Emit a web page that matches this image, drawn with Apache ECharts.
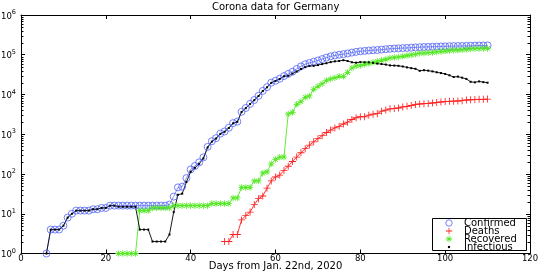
<!DOCTYPE html>
<html><head><meta charset="utf-8">
<script src="https://cdn.jsdelivr.net/npm/echarts@6/dist/echarts.min.js"></script>
<style>html,body{margin:0;padding:0;background:#fff}#c{width:545px;height:273px}</style>
</head><body><div id="c"></div>
<script>
// Day index: Jan 22nd, 2020 = day 1
const confirmedFirstDay = 6;
const confirmed = [1,4,4,4,5, 8,10,12,12,12, 12,13,13,14,14, 16,16,16,16,16,
  16,16,16,16,16, 16,16,16,16,17, 27,46,48,79,130, 159,196,262,482,670,
  799,1040,1176,1457,1908, 2078,3675,4585,5795,7272, 9257,12327,15320,19848,22213,
  24873,29056,32986,37323,43938, 50871,57695,62095,66885,71808, 77872,84794,91159,96092,100123,
  103374,107663,113296,118181,122171, 124908,127854,130072,131359,134753, 137698,141397,143342,145184,147065,
  148291,150648,153129,154999,156513, 157770,158758,159912,161539,163009, 164077,164967,165664,166152,167007,
  168162,169430,170588,171324,171879];
const deathsFirstDay = 48;
const deaths = [2,2,3, 3,7,9,11,17, 24,28,44,67,84, 94,123,157,206,267, 342,433,533,645,775,
  920,1107,1275,1444,1584, 1810,2016,2349,2607,2767, 2736,3022,3194,3294,3804, 4052,4352,4459,4586,4862,
  5033,5279,5575,5760,5877, 5976,6126,6314,6467,6623, 6736,6812,6866,6993,7275, 7392,7510,7549,7569,7661];
const recoveredFirstDay = 23;
const recovered = [1,1,1,1,1, 12,12,12, 14,14,14,14,14, 16,16,16,16,16, 16,16,16,16,
  18,18,18,18,18, 25,25, 46,46,46, 67,67, 105,113,180,233, 266,266,
  3243,3547,5673,6658,8481, 9211,13500,16100,18700,22440, 24575,26400,28700,28700,36081,
  46300,52407,53913,57400,60300, 64300,68200,72600,77000,83114, 85400,88000,91500,95200,99400,
  103300,109800,109800,112000,114500, 117400,120400,123500,126900,130600, 130600,132700,135100,139900,141700,
  141700,143300,144400];
const infectiousFirstDay = 6;
const infectious = [1,4,4,4,5, 8,10,12,12,12, 12,13,13,14,14, 16,16, 15,15,15,15,15, 4,4,4, 2,2,2,2,3,
  11,30,32,63,114, 143,180,246,466,652, 781,1022,1156,1437,1880, 2050,3622,4530,5738,7188,
  9166,12194,15163,19601,21896, 24513,28667,29586,33570,37998, 43871,48781,52351,52740,54933,
  58252,61247,65309,68248,69839, 72864,69566,64647,63167,65491, 64772,64532,62578,59865,58349,
  56646,53931,53483,52598,50703, 48058,45969,44254,39439,40836, 39794,38132,36198,34672,32886,
  30441,27555,28198,26459,24632, 20870,20220,21339,20455,19818];
const seriesNames = ['Confirmed','Deaths','Recovered','Infectious'];
const minorTicks = [2,3,4,5,6,7,8,9, 20,30,40,50,60,70,80,90, 200,300,400,500,600,700,800,900,
  2000,3000,4000,5000,6000,7000,8000,9000, 20000,30000,40000,50000,60000,70000,80000,90000,
  200000,300000,400000,500000,600000,700000,800000,900000];

function pairs(first, arr){ return arr.map((v,i)=>[first+i, v]); }

const FONT = 'DejaVu Sans';
const BLUE = '#5062f5', RED = '#ff2020', GREEN = '#55e825', BLACK = '#000';
const PLUS = 'path://M0,0M10,10M4.4,0h1.2v10h-1.2zM0,4.4h10v1.2h-10z';
const STAR = 'path://M0,0M10,10M4.4,0h1.2v10h-1.2zM0,4.4h10v1.2h-10zM1.9,1.1L8.9,8.1L8.1,8.9L1.1,1.9zM8.9,1.9L1.9,8.9L1.1,8.1L8.1,1.1z';
const DOT = 'path://M0,0M9,9M3,3h3v3h-3z';

const chart = echarts.init(document.getElementById('c'), null, {renderer:'canvas'});
const axisCommon = {
  axisLine:{show:true, onZero:false, lineStyle:{color:BLACK, width:1}},
  axisTick:{show:true, inside:true, length:4, lineStyle:{color:BLACK}},
  splitLine:{show:false}
};
chart.setOption({
  animation:false,
  backgroundColor:'#fff',
  title:{text:'Corona data for Germany', left:212, top:2, padding:0,
    textStyle:{fontSize:10, fontWeight:'normal', fontFamily:FONT, color:'#000'}},
  grid:{left:21, right:15, top:15, bottom:19.5, containLabel:false, outerBoundsMode:'none'},
  graphic:[{type:'rect', left:432, top:218, z:50,
    shape:{width:94, height:32}, style:{fill:'#fff', stroke:'#000', lineWidth:1}}],
  legend:{
    orient:'vertical', left:439, top:218, padding:0, itemGap:-2, z:60,
    itemWidth:20, itemHeight:8, selectedMode:false,
    lineStyle:{width:0},
    textStyle:{fontFamily:FONT, fontSize:10, color:'#000'},
    data:[{name:seriesNames[0], itemStyle:{borderWidth:0.8}}, seriesNames[1], seriesNames[2], seriesNames[3]]
  },
  xAxis:[
    Object.assign({type:'value', min:0, max:120, interval:20, position:'bottom',
      axisLabel:{fontFamily:FONT, fontSize:8.5, color:'#000', margin:1},
      name:'Days from Jan. 22nd, 2020', nameLocation:'middle', nameGap:8, nameMoveOverlap:false,
      nameTextStyle:{fontFamily:FONT, fontSize:10, color:'#000'}}, axisCommon),
    Object.assign({type:'value', min:0, max:120, interval:20, position:'top',
      axisLabel:{show:false}}, axisCommon)
  ],
  yAxis:[
    Object.assign({type:'log', logBase:10, min:1, max:1000000, position:'left',
      axisLabel:{margin:5, formatter:function(v){return '{b|10}{s|'+Math.round(Math.log10(v))+'}';},
        rich:{b:{fontFamily:FONT, fontSize:8.5, color:'#000', lineHeight:12, verticalAlign:'bottom'},
              s:{fontFamily:FONT, fontSize:6.5, color:'#000', lineHeight:7, verticalAlign:'top'}}}}, axisCommon),
    Object.assign({type:'log', logBase:10, min:1, max:1000000, position:'right',
      axisLabel:{show:false}}, axisCommon)
  ],
  series:[
    {type:'custom', name:'minor', silent:true, clip:false, xAxisIndex:0, yAxisIndex:0,
      data:minorTicks.map(v=>[0,v]),
      renderItem:function(params, api){
        const v = api.value(1);
        const pL = api.coord([0, v]); const pR = api.coord([120, v]);
        const y = Math.round(pL[1]) + 0.5;
        return {type:'group', children:[
          {type:'line', shape:{x1:pL[0], y1:y, x2:pL[0]+2.5, y2:y}, style:{stroke:'#000', lineWidth:1}},
          {type:'line', shape:{x1:pR[0]-2.5, y1:y, x2:pR[0], y2:y}, style:{stroke:'#000', lineWidth:1}}
        ]};
      }},
    {type:'line', name:'Confirmed', data:pairs(confirmedFirstDay, confirmed),
      symbol:'circle', symbolSize:7, showAllSymbol:true,
      itemStyle:{color:'rgba(0,0,0,0)', borderColor:BLUE, borderWidth:0.8},
      lineStyle:{color:BLUE, width:0.7}},
    {type:'line', name:'Deaths', data:pairs(deathsFirstDay, deaths),
      symbol:PLUS, symbolSize:7, showAllSymbol:true,
      itemStyle:{color:RED}, lineStyle:{color:RED, width:0.9}},
    {type:'line', name:'Recovered', data:pairs(recoveredFirstDay, recovered),
      symbol:STAR, symbolSize:6.5, showAllSymbol:true,
      itemStyle:{color:GREEN}, lineStyle:{color:GREEN, width:0.9}},
    {type:'line', name:'Infectious', data:pairs(infectiousFirstDay, infectious),
      symbol:DOT, symbolSize:6, showAllSymbol:true,
      itemStyle:{color:BLACK}, lineStyle:{color:BLACK, width:0.9}}
  ]
});
</script></body></html>
